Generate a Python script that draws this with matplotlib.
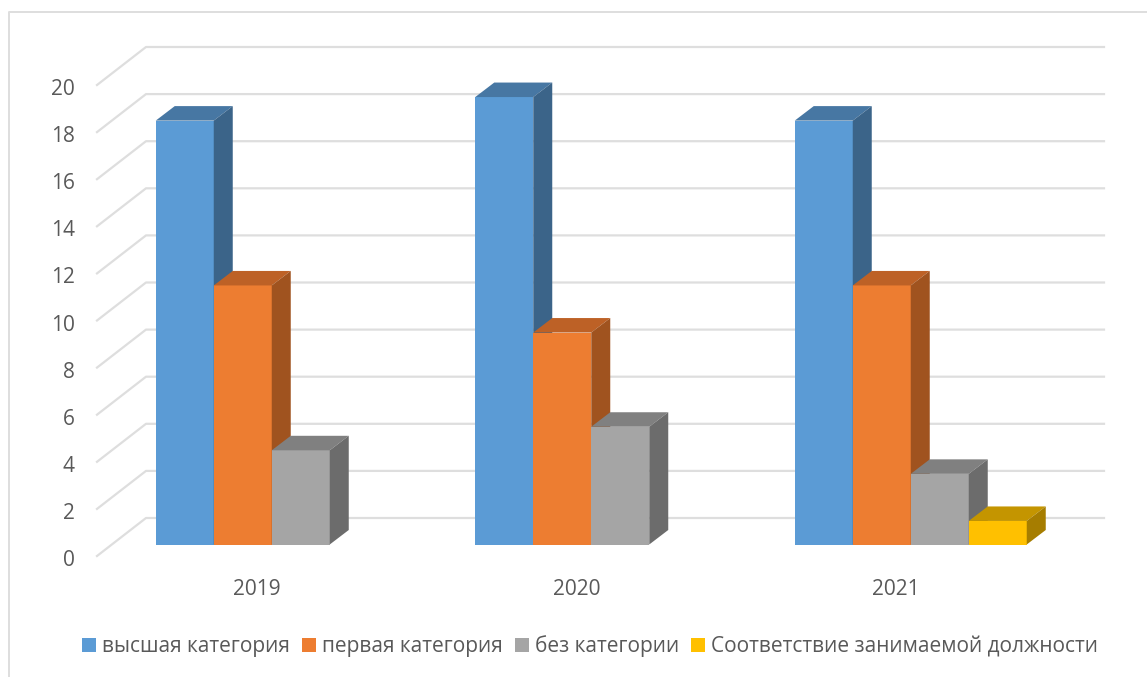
#!/usr/bin/env python
# -*- coding: utf-8 -*-

'''
Grouped pseudo-3D column chart of staff qualification categories, 2019-2021
'''

import matplotlib
matplotlib.use("Agg")
import matplotlib.pyplot as plt
from matplotlib.lines import Line2D
from matplotlib.patches import Rectangle
from matplotlib.transforms import ScaledTranslation

years = ["2019", "2020", "2021"]
yTicks = [0, 2, 4, 6, 8, 10, 12, 14, 16, 18, 20]

seriesNames = ["высшая категория", "первая категория", "без категории",
               "Соответствие занимаемой должности"]
highest = [18, 19, 18]
first = [11, 9, 11]
noCategory = [4, 5, 3]
positionMatch = [0, 0, 1]
allSeries = [highest, first, noCategory, positionMatch]

frontColors = ["#5B9BD5", "#ED7D31", "#A5A5A5", "#FFC000"]
sideColors = ["#3B6489", "#A0531F", "#6C6C6C", "#A67D00"]
topColors = ["#4777A3", "#BD6126", "#808080", "#C49500"]

W, H = 1147, 677
TEXT = "#595959"
GRID = "#DEDEDE"
FONT_SIZE = 15

# plot box in pixels
LEFT, RIGHT, TOP, BOTTOM = 97, 1104, 47, 556
UNIT = 23.55       # pixels per y unit
GROUP = 319.5      # pixels per category

barWidth = 58 / GROUP
barStart = -101 / GROUP
barFloor = 11.5 / UNIT
barDepthX = 19 / GROUP
barDepthY = 14.5 / UNIT
wallDepthX = 49 / GROUP
wallDepthY = 38 / UNIT


def drawBar(ax, left, value, index):
    '''
    One column: front face, then the top and the side as parallelograms.
    '''
    right = left + barWidth
    low = barFloor
    high = barFloor + value
    ax.bar(left, value, barWidth, bottom=low, align="edge",
           color=frontColors[index], linewidth=0, zorder=3)
    ax.fill([left, right, right + barDepthX, left + barDepthX],
            [high, high, high + barDepthY, high + barDepthY],
            color=topColors[index], linewidth=0, zorder=3)
    ax.fill([right, right + barDepthX, right + barDepthX, right],
            [low, low + barDepthY, high + barDepthY, high],
            color=sideColors[index], linewidth=0, zorder=3)


def main():
    plt.rcParams['font.family'] = ['Open Sans', 'DejaVu Sans']
    fig = plt.figure(figsize=(W / 100, H / 100), dpi=100)
    ax = fig.add_axes([LEFT / W, 1 - BOTTOM / H, (RIGHT - LEFT) / W, (BOTTOM - TOP) / H])

    ax.set_xlim(-0.5, (RIGHT - LEFT) / GROUP - 0.5)
    ax.set_ylim(0, (BOTTOM - TOP) / UNIT)
    ax.patch.set_visible(False)
    for spine in ax.spines.values():
        spine.set_visible(False)

    ax.set_xticks(range(len(years)), years)
    ax.set_yticks(yTicks)
    ax.tick_params(axis="both", length=0, labelsize=FONT_SIZE, labelcolor=TEXT)
    ax.tick_params(axis="x", pad=16.5)
    ax.tick_params(axis="y", pad=16)

    # y labels sit a little under their lines
    nudge = ScaledTranslation(0, -1.5 / 72, fig.dpi_scale_trans)
    for label in ax.get_yticklabels():
        label.set_transform(label.get_transform() + nudge)

    # walls: diagonal on the left, horizontal on the back
    for tick in yTicks:
        ax.plot([-0.5, -0.5 + wallDepthX, ax.get_xlim()[1]],
                [tick, tick + wallDepthY, tick + wallDepthY],
                color=GRID, linewidth=1.6, zorder=1, clip_on=False)

    for i in range(len(years)):
        for index, series in enumerate(allSeries):
            if series[i] > 0:
                drawBar(ax, i + barStart + index * barWidth, series[i], index)

    handles = [Rectangle((0, 0), 1, 1, color=c, linewidth=0) for c in frontColors]
    fig.legend(handles, seriesNames, ncol=4, loc="center",
               bbox_to_anchor=(590 / W, 1 - 646.5 / H), frameon=False,
               fontsize=FONT_SIZE, labelcolor=TEXT, handlelength=0.67, handleheight=0.67,
               handletextpad=0.29, columnspacing=0.57, borderpad=0)

    # outer frame: left and top edges only, both run off the picture
    frameX = [9 / W, 9 / W, 1]
    frameY = [0, 1 - 12 / H, 1 - 12 / H]
    fig.add_artist(Line2D(frameX, frameY, color=GRID, linewidth=1.4))

    fig.savefig("out.png", dpi=100)


if (__name__ == "__main__"):
    main()
